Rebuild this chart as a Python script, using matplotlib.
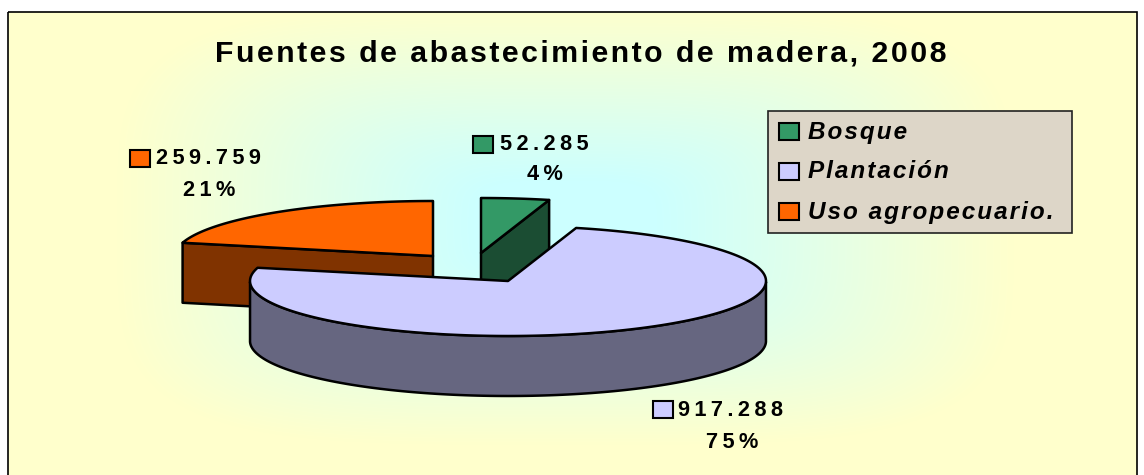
import numpy as np
import matplotlib
matplotlib.use('Agg')
import matplotlib.pyplot as plt
from matplotlib.colors import LinearSegmentedColormap
from matplotlib.patches import Polygon, Rectangle

# data
categories = ['Bosque', 'Plantación', 'Uso agropecuario.']
values = [52285, 917288, 259759]

title = 'Fuentes de abastecimiento de madera, 2008'

top_colors = ['#339966', '#CCCCFF', '#FF6600']
side_colors = ['#1B4D33', '#666680', '#803300']

W, H = 1144, 475
plt.rcParams['font.family'] = ['Liberation Sans', 'DejaVu Sans']


def spaced(s, gap='\u2009'):
    # the reference has wide letter spacing
    return gap.join(s)


fig = plt.figure(figsize=(W / 100, H / 100), dpi=100)
ax = fig.add_axes([0, 0, 1, 1])
ax.axis('off')

# background, gradient from the centre to the frame
left, top, right, bottom = 8, 12, 1137, 475
xx, yy = np.meshgrid(np.arange(left, right), np.arange(top, bottom))
d = ((np.abs(xx - 565) / 450) ** 4 + (np.abs(yy - 225) / 220) ** 4) ** 0.25
d = np.clip((d - 0.2) / 0.8, 0, 1)
cmap = LinearSegmentedColormap.from_list('bg', ['#CCFFFF', '#FFFFCC'])
ax.imshow(d, cmap=cmap, vmin=0, vmax=1, extent=(left, right, bottom, top),
          aspect='auto', zorder=0)
ax.set_xlim(0, W)
ax.set_ylim(H, 0)
ax.add_patch(Rectangle((left, top), right - left, bottom - top + 5, fill=False,
                       ec='black', lw=1.2, zorder=1))

ax.text(581, 54, spaced(title, '\u200a'), ha='center', va='center', fontsize=21.8,
        fontweight='bold', zorder=10)

# pie geometry, pixels
rx, ry, depth = 258, 55, 60
offsets = [(481, 253), (508, 281), (433, 256)]

total = sum(values)
angles = np.cumsum([0] + values) / total * 2 * np.pi


def ell(cx, cy, t):
    return cx + rx * np.sin(t), cy - ry * np.cos(t)


def draw_slice(i, z):
    cx, cy = offsets[i]
    a0, a1 = angles[i], angles[i + 1]
    t = np.linspace(a0, a1, 200)
    x, y = ell(cx, cy, t)
    style = dict(ec='black', lw=1.8, joinstyle='round', zorder=z)
    if i == 0:
        # cut face of the small slice
        xe, ye = ell(cx, cy, a1)
        ax.add_patch(Polygon([(cx, cy), (xe, ye), (xe, ye + depth), (cx, cy + depth)],
                             fc=side_colors[i], **style))
    elif i == 2:
        xe, ye = ell(cx, cy, a0)
        ax.add_patch(Polygon([(cx, cy), (xe, ye), (xe, ye + depth), (cx, cy + depth)],
                             fc=side_colors[i], **style))
    else:
        # outer wall, only the part facing the viewer
        front = np.cos(t) <= 0
        xf, yf = x[front], y[front]
        wall = list(zip(xf, yf)) + list(zip(xf[::-1], yf[::-1] + depth))
        ax.add_patch(Polygon(wall, fc=side_colors[i], **style))
    ax.add_patch(Polygon([(cx, cy)] + list(zip(x, y)), fc=top_colors[i], **style))


draw_slice(2, 3)
draw_slice(0, 3)
draw_slice(1, 5)

# data labels with their key
label_pos = [(544, 145, 175), (731, 411, 443), (208, 159, 191)]
key_pos = [(473, 136), (653, 401), (130, 150)]
for i in range(3):
    lx, y1, y2 = label_pos[i]
    val = f'{values[i]:,}'.replace(',', '.')
    pct = f'{values[i] / total * 100:.0f}%'
    ax.text(lx, y1, spaced(val), ha='center', va='center', fontsize=15.7, fontweight='bold', zorder=10)
    ax.text(lx + 1, y2, spaced(pct), ha='center', va='center', fontsize=15.7, fontweight='bold', zorder=10)
    ax.add_patch(Rectangle(key_pos[i], 20, 17, fc=top_colors[i], ec='black', lw=1.5, zorder=10))

# legend box
ax.add_patch(Rectangle((768, 111), 304, 122, fc='#DDD6C8', ec='#222222', lw=1.2, zorder=8))
for i, name in enumerate(categories):
    y = 131 + i * 40
    ax.add_patch(Rectangle((779, y - 8), 20, 17, fc=top_colors[i], ec='black', lw=1.5, zorder=9))
    ax.text(808, y + 1, spaced(name, '\u200a'), ha='left', va='center', fontsize=17.5, fontweight='bold',
            fontstyle='italic', zorder=10)

fig.savefig('out.png', dpi=100)
